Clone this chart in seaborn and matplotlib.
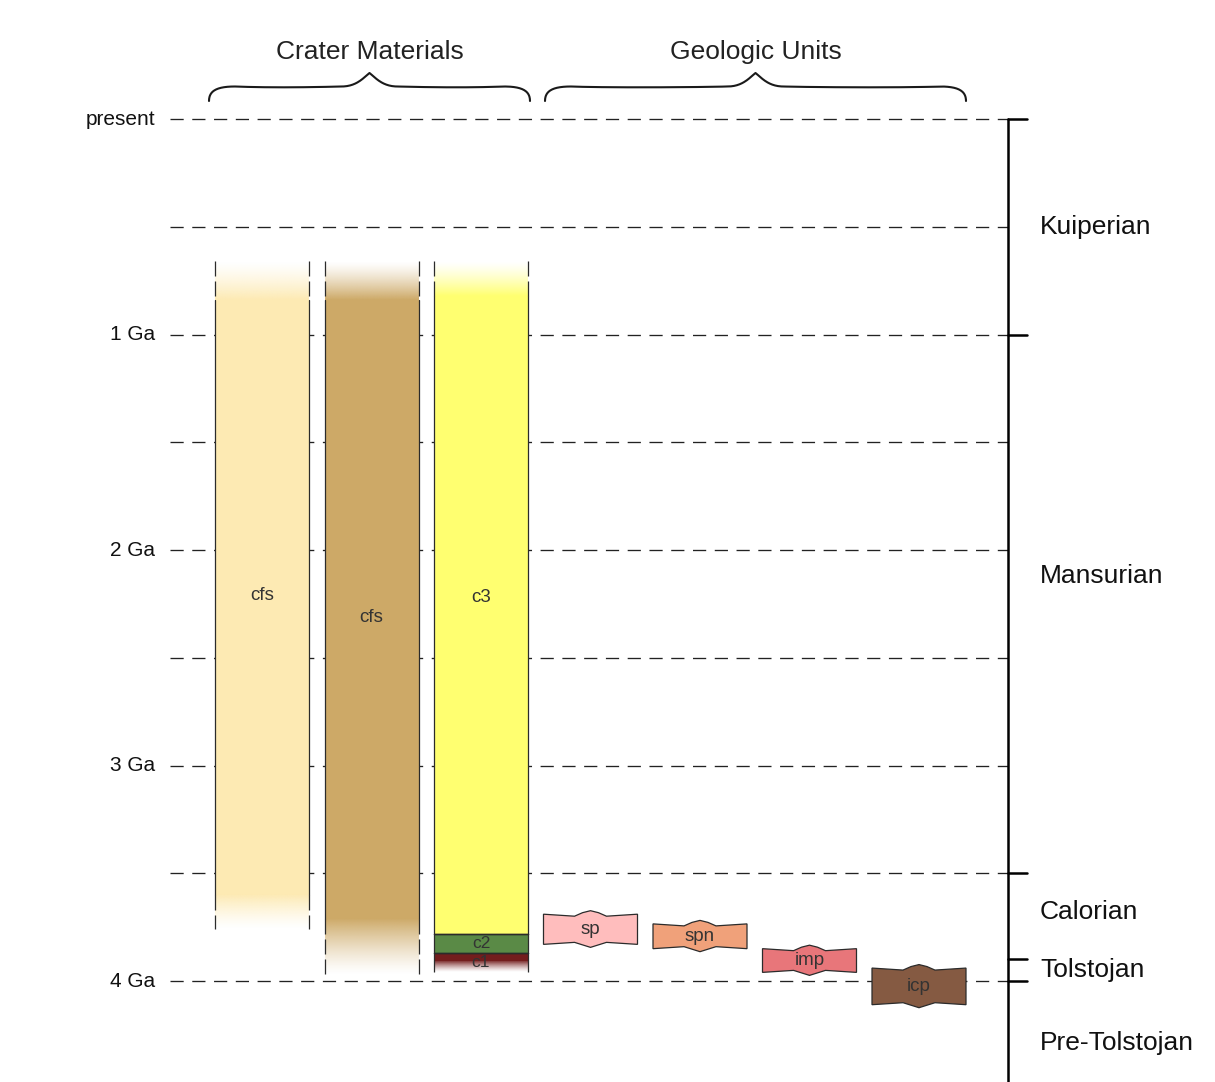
import numpy as np
import matplotlib.pyplot as plt
import matplotlib.colors as mcolors
import seaborn as sns
from matplotlib.patches import Rectangle, Polygon

# time axis (Ga before present)
tick_ages = [0, 1, 2, 3, 4]
tick_labels = ["present", "1 Ga", "2 Ga", "3 Ga", "4 Ga"]
grid_ages = [0, 0.5, 1, 1.5, 2, 2.5, 3, 3.5, 4]

# time-stratigraphic periods (young boundary of each period)
periods = ["Kuiperian", "Mansurian", "Calorian", "Tolstojan", "Pre-Tolstojan"]
period_bounds = [0, 1.0, 3.5, 3.9, 4.0]

# crater materials: column, young end, old end (Ga)
crater_names = ["cfs", "cfs", "c3", "c2", "c1"]
crater_col = [0, 1, 2, 2, 2]
crater_young = [0.66, 0.66, 0.66, 3.78, 3.87]
crater_old = [3.76, 3.97, 3.78, 3.87, 3.96]
crater_fade_top = [0.18, 0.18, 0.16, 0, 0]
crater_fade_bot = [0.16, 0.26, 0, 0, 0.055]
crater_colors = ["#FDEAB3", "#CDA967", "#FFFF70", "#5A8A46", "#731D1D"]

# geologic units
geo_names = ["sp", "spn", "imp", "icp"]
geo_col = [3, 4, 5, 6]
geo_young = [3.69, 3.735, 3.85, 3.94]
geo_old = [3.83, 3.85, 3.96, 4.11]
geo_colors = ["#FFBDBD", "#F0A17A", "#E8767A", "#855A42"]

# layout: pixel -> data helpers
X0, PX_X = 262, 109.5   # px of column 0, px per column
Y0, PX_Y = 119, 215.5   # px of present, px per Ga
W, H = 1215, 1082


def ux(px):
    return (px - X0) / PX_X


def uy(py):
    return (py - Y0) / PX_Y


hw = 47 / PX_X  # half width of a column
edge = "#2b2b2b"
txt = "#333333"

sns.set_theme(style="white")
plt.rcParams["font.family"] = ["Liberation Sans", "DejaVu Sans"]

fig = plt.figure(figsize=(W / 100, H / 100), dpi=100)
ax = fig.add_axes([0, 0, 1, 1])

# dashed age lines
x_left, x_right = ux(170), ux(1008)
for a in grid_ages:
    ax.plot([x_left, x_right], [a, a], color="#222222", lw=0.95,
            ls=(0, (10, 6.5)), zorder=1)
for a, lab in zip(tick_ages, tick_labels):
    ax.text(ux(155), a, lab, ha="right", va="center", fontsize=15, color="#111111")


def fade(x, ya, yb, color, down):
    rgb = mcolors.to_rgb(color)
    n = 80
    img = np.zeros((n, 2, 4))
    img[:, :, :3] = rgb
    ramp = np.linspace(1, 0, n) if down else np.linspace(0, 1, n)
    img[:, :, 3] = ramp[:, None] ** 1.3
    ax.imshow(img, extent=(x - hw, x + hw, yb, ya), origin="upper",
              aspect="auto", interpolation="bilinear", zorder=2)


def sides(x, ya, yb, dashed):
    ls = (0, (12, 4)) if dashed else "-"
    for xe in (x - hw, x + hw):
        ax.plot([xe, xe], [ya, yb], color=edge, lw=0.9, ls=ls, zorder=3)


# crater material columns
for name, c, y0, y1, ft, fb, col in zip(crater_names, crater_col, crater_young,
                                         crater_old, crater_fade_top,
                                         crater_fade_bot, crater_colors):
    s0, s1 = y0 + ft, y1 - fb
    ax.add_patch(Rectangle((c - hw, s0), 2 * hw, s1 - s0, facecolor=col,
                           edgecolor="none", zorder=2))
    sides(c, s0, s1, False)
    if ft > 0:
        fade(c, y0, s0, col, False)
        sides(c, y0, s0, True)
    else:
        ax.plot([c - hw, c + hw], [y0, y0], color=edge, lw=1.0, zorder=3)
    if fb > 0:
        fade(c, s1, y1, col, True)
        sides(c, s1, y1, True)
    else:
        ax.plot([c - hw, c + hw], [y1, y1], color=edge, lw=1.0, zorder=3)
    fs = 13.5 if y1 - y0 > 0.5 else 12.5
    ax.text(c, (y0 + y1) / 2, name, ha="center", va="center", fontsize=fs,
            color=txt, zorder=4)

# geologic unit boxes (notched)
top_shape = [(-1, 0), (-0.34, 2), (-0.17, -1.5), (0, -3.5), (0.17, -1.5), (0.34, 2), (1, 0)]
bot_shape = [(1, 0), (0.34, -2), (0, 3), (-0.34, -2), (-1, 0)]
for name, c, y0, y1, col in zip(geo_names, geo_col, geo_young, geo_old, geo_colors):
    pts = [(c + fx * hw, y0 + dy / PX_Y) for fx, dy in top_shape]
    pts += [(c + fx * hw, y1 + dy / PX_Y) for fx, dy in bot_shape]
    ax.add_patch(Polygon(pts, closed=True, facecolor=col, edgecolor=edge,
                         lw=0.9, zorder=3))
    ax.text(c, (y0 + y1) / 2, name, ha="center", va="center", fontsize=13.5,
            color=txt, zorder=4)

# period bracket on the right
bx, tick = ux(1008), 19 / PX_X
y_bottom = uy(H)
ax.plot([bx, bx], [0, y_bottom], color="black", lw=1.8, zorder=3)
for b in period_bounds:
    ax.plot([bx, bx + tick], [b, b], color="black", lw=1.8, zorder=3)
period_label_y = [0.5, 2.12, 3.68, 3.95, 4.29]
for p, yl in zip(periods, period_label_y):
    ax.text(ux(1040), yl, p, ha="left", va="center", fontsize=19, color="#111111")


def bezier(p0, p1, p2, p3, n=40):
    t = np.linspace(0, 1, n)[:, None]
    p0, p1, p2, p3 = map(np.array, (p0, p1, p2, p3))
    return (1 - t) ** 3 * p0 + 3 * (1 - t) ** 2 * t * p1 + 3 * (1 - t) * t ** 2 * p2 + t ** 3 * p3


def brace(xa, xb, label):
    xc = (xa + xb) / 2
    ye, ym, yt = uy(101), uy(86.5), uy(73)
    hk, tw = 26 / PX_X, 28 / PX_X
    left = np.vstack([
        bezier((xa, ye), (xa, ym + 0.02), (xa + 0.3 * hk, ym), (xa + hk, ym)),
        bezier((xa + hk, ym), (xa + hk + 0.3, ym + 0.006), (xc - tw - 0.3, ym + 0.004), (xc - tw, ym)),
        bezier((xc - tw, ym), (xc - 0.45 * tw, ym), (xc - 0.2 * tw, yt + 0.02), (xc, yt)),
    ])
    right = left[::-1].copy()
    right[:, 0] = 2 * xc - right[:, 0]
    path = np.vstack([left, right])
    ax.plot(path[:, 0], path[:, 1], color="#1a1a1a", lw=1.5, zorder=3,
            solid_capstyle="round")
    ax.text(xc, uy(52), label, ha="center", va="center", fontsize=19, color="#222222")


brace(ux(209), ux(530), "Crater Materials")
brace(ux(545), ux(966), "Geologic Units")

ax.set_xlim(ux(0), ux(W))
ax.set_ylim(uy(H), uy(0))
ax.axis("off")

fig.savefig("out.png", dpi=100)
